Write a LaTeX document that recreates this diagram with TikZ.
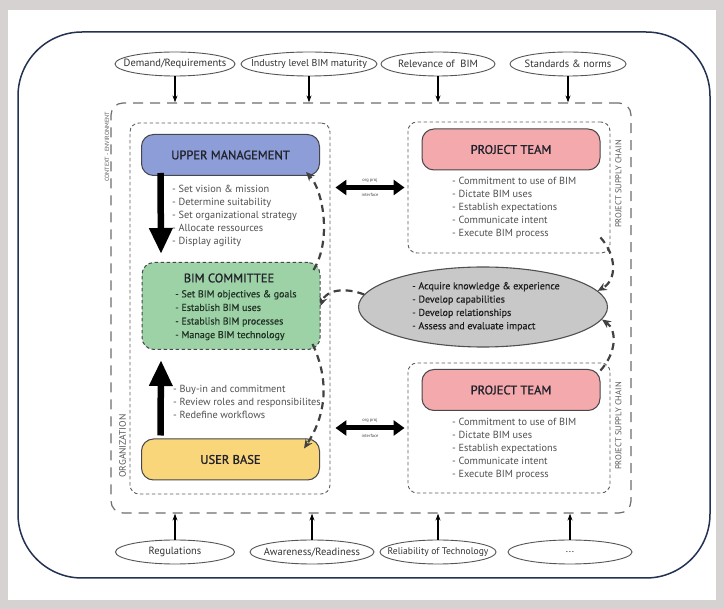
\documentclass[tikz,border=0pt]{standalone}
\usepackage{fontspec}
\setmainfont{PT Sans}
\newfontfamily\titlefont[FakeBold=1.2]{PT Sans}
\newfontfamily\semifont[FakeBold=0.5]{PT Sans}
\usetikzlibrary{arrows.meta,calc,shapes.geometric}

\begin{document}
\begin{tikzpicture}[x=1pt,y=1pt,yscale=-1,
	outerframe/.style={draw={rgb, 255:red, 35; green, 50; blue, 82 },line width=1.5pt,rounded corners=64pt},
	envbox/.style={draw={rgb, 255:red, 110; green, 110; blue, 110 },dash pattern={on 10pt off 7pt},line width=1.2pt,rounded corners=12pt,inner sep=0pt},
	dashbox/.style={draw={rgb, 255:red, 95; green, 95; blue, 95 },dash pattern={on 3.5pt off 2.5pt},line width=0.9pt,rounded corners=9pt,inner sep=0pt},
	ctxell/.style={ellipse,draw={rgb, 255:red, 85; green, 85; blue, 85 },line width=0.9pt,inner sep=0pt,minimum height=24pt},
	ctxtxt/.style={inner sep=0pt,text={rgb, 255:red, 50; green, 50; blue, 50 },font=\fontsize{10.5}{11}\selectfont},
	ctxarr/.style={-{Stealth[length=7pt,width=5pt]},line width=1.2pt},
	titlebox/.style={rectangle,rounded corners=12pt,draw={rgb, 255:red, 70; green, 70; blue, 75 },line width=1pt,minimum width=178pt,minimum height=41pt,inner sep=0pt,font=\titlefont\fontsize{12.5}{13}\selectfont,text={rgb, 255:red, 35; green, 35; blue, 45 }},
	bullets/.style={anchor=north west,inner sep=0pt,align=left,font=\fontsize{10.3}{13}\selectfont,text={rgb, 255:red, 80; green, 80; blue, 80 }},
	sidelbl/.style={rotate=90,inner sep=0.5pt,font=\fontsize{8.5}{9}\selectfont,text={rgb, 255:red, 90; green, 90; blue, 90 }},
	bigarrow/.style={line width=6.5pt,-{Triangle[width=22pt,length=26pt]}},
	dblarrow/.style={line width=5pt,{Triangle[width=15pt,length=11pt]}-{Triangle[width=15pt,length=11pt]}},
	tinylbl/.style={fill=white,inner sep=0.6pt,font=\fontsize{4.5}{5}\selectfont,text={rgb, 255:red, 70; green, 70; blue, 70 }},
	feedback/.style={draw={rgb, 255:red, 65; green, 65; blue, 65 },line width=2.2pt,dash pattern={on 7pt off 5pt},-{Stealth[length=9pt,width=8pt]}}
	]
	%Background
	\fill[fill={rgb, 255:red, 214; green, 210; blue, 210 }] (0,0) rectangle (724,609);
	\fill[white] (8,10) rectangle (716,600);
	\useasboundingbox (0,0) rectangle (724,609);
	
	%Rounded Rect [outer frame]
	\draw[outerframe] (18,32) rectangle (710,578);
	
	%Shape: Rectangle [context - environment]
	\node[envbox,minimum width=520pt,minimum height=410pt] (env) at (371,308) {};
	%Shape: Rectangle [organization]
	\node[dashbox,minimum width=200pt,minimum height=371pt] (org) at (230,308.5) {};
	%Shape: Rectangle [project supply chain]
	\node[dashbox,minimum width=202pt,minimum height=131pt] (ptA) at (509,187.5) {};
	\node[dashbox,minimum width=202pt,minimum height=130pt] (ptB) at (509,428) {};
	
	%Shape: Ellipse [context, top]
	\node[ctxell,minimum width=120pt] (demand) at (175,64) {};
	\node[ctxtxt] at (demand) {Demand/Requirements};
	\node[ctxell,minimum width=136pt] (industry) at (309,64) {};
	\node[ctxtxt,font=\fontsize{10}{11}\selectfont] at (industry) {Industry level BIM maturity};
	\node[ctxell,minimum width=114pt] (relevance) at (438,64) {};
	\node[ctxtxt] at (relevance) {Relevance of \ BIM};
	\node[ctxell,minimum width=116pt] (standards) at (568,64) {};
	\node[ctxtxt] at (standards) {Standards \& norms};
	%Shape: Ellipse [context, bottom]
	\node[ctxell,minimum width=119pt] (regul) at (175,552) {};
	\node[ctxtxt] at (regul) {Regulations};
	\node[ctxell,minimum width=124pt] (aware) at (312,552) {};
	\node[ctxtxt] at (aware) {Awareness/Readiness};
	\node[ctxell,minimum width=116pt] (reliab) at (438,552) {};
	\node[ctxtxt,font=\fontsize{9.6}{10}\selectfont] at (reliab) {Reliability of Technology};
	\node[ctxell,minimum width=124pt] (more) at (570,552) {};
	\node[ctxtxt] at (more) {...};
	
	%Straight Lines [context arrows]
	\draw[ctxarr] (demand.south) -- (demand.south |- env.north);
	\draw[ctxarr] (industry.south) -- (industry.south |- env.north);
	\draw[ctxarr] (relevance.south) -- (relevance.south |- env.north);
	\draw[ctxarr] (standards.south) -- (standards.south |- env.north);
	\draw[ctxarr] (regul.north) -- (regul.north |- env.south);
	\draw[ctxarr] (aware.north) -- (aware.north |- env.south);
	\draw[ctxarr] (reliab.north) -- (reliab.north |- env.south);
	\draw[ctxarr] (more.north) -- (more.north |- env.south);
	
	% Text Node [side labels]
	\node[sidelbl,fill=white,font=\fontsize{6}{6}\selectfont] (ctxlbl) at (107,147) {CONTEXT - ENVIRONMENT};
	\node[sidelbl,font=\fontsize{9.5}{10}\selectfont] (orglbl) at (122.5,446) {ORGANIZATION};
	\node[sidelbl] (psclblA) at (618.5,184) {PROJECT SUPPLY CHAIN};
	\node[sidelbl] (psclblB) at (618.5,426) {PROJECT SUPPLY CHAIN};
	
	%Rounded Rect [upper management]
	\node[titlebox,fill={rgb, 255:red, 140; green, 157; blue, 216 }] (upper) at (230.5,155) {UPPER MANAGEMENT};
	% Text Node
	\node[bullets] (upperlist) at (172,185) {- Set vision \& mission\\- Determine suitability\\- Set organizational strategy\\- Allocate ressources\\- Display agility};
	
	%Rounded Rect [bim committee]
	\node[titlebox,fill={rgb, 255:red, 156; green, 210; blue, 166 },dash pattern={on 3.5pt off 2.5pt},minimum height=87pt] (bim) at (231,306) {};
	% Text Node
	\node[titlebox,draw=none,minimum width=0pt,minimum height=0pt] (bimtitle) at (229,278) {BIM COMMITTEE};
	\node[bullets,font=\semifont\fontsize{10}{13.6}\selectfont,text={rgb, 255:red, 35; green, 50; blue, 38 }] (bimlist) at (175,290) {- Set BIM objectives \& goals\\- Establish BIM uses\\- Establish BIM processes\\- Manage BIM technology};
	
	%Rounded Rect [user base]
	\node[titlebox,fill={rgb, 255:red, 250; green, 214; blue, 122 }] (userbase) at (230.5,459.5) {USER BASE};
	% Text Node
	\node[bullets] (userlist) at (173,385) {- Buy-in and commitment\\- Review roles and responsibilites\\- Redefine workflows};
	
	%Straight Lines [organization arrows]
	\draw[bigarrow] ($(upper.south west)+(19.5,-3)$) -- ($(bim.north west)+(19.5,-8)$);
	\draw[bigarrow] ($(userbase.north west)+(19.5,-3)$) -- ($(bim.south west)+(19.5,10)$);
	
	%Rounded Rect [project teams]
	\node[titlebox,fill={rgb, 255:red, 244; green, 170; blue, 172 }] (teamA) at (511,149.5) {PROJECT TEAM};
	\node[bullets] (teamAlist) at (452,177) {- Commitment to use of BIM\\- Dictate BIM uses\\- Establish expectations\\- Communicate intent\\- Execute BIM process};
	\node[titlebox,fill={rgb, 255:red, 244; green, 170; blue, 172 }] (teamB) at (511,390) {PROJECT TEAM};
	\node[bullets] (teamBlist) at (452,418) {- Commitment to use of BIM\\- Dictate BIM uses\\- Establish expectations\\- Communicate intent\\- Execute BIM process};
	
	%Shape: Ellipse [learning]
	\node[ellipse,draw={rgb, 255:red, 80; green, 80; blue, 80 },line width=1.1pt,fill={rgb, 255:red, 200; green, 200; blue, 200 },minimum width=249pt,minimum height=80pt,inner sep=0pt] (learn) at (483,307) {};
	\node[bullets,text={rgb, 255:red, 30; green, 30; blue, 30 },font=\semifont\fontsize{10}{13.3}\selectfont] (learnlist) at (412,282) {- Acquire knowledge \& experience\\- Develop capabilities\\- Develop relationships\\- Assess and evaluate impact};
	
	%Straight Lines [org proj interface]
	\draw[dblarrow] ($(org.east |- ptA.west)+(5,0)$) -- ($(ptA.west)+(-3,0)$);
	\node[tinylbl] (ifAtop) at (370,180) {org proj};
	\node[tinylbl] (ifAbot) at (370,195) {interface};
	\draw[dblarrow] ($(org.east |- ptB.west)+(5,0)$) -- ($(ptB.west)+(-3,0)$);
	\node[tinylbl] (ifBtop) at (370,420.5) {org proj};
	\node[tinylbl] (ifBbot) at (370,435.5) {interface};
	
	%Curve Lines [feedback]
	\draw[feedback] (learn.174) .. controls (345,287) and (326,290) .. (bim.east);
	\draw[feedback] ($(bim.north east)+(-7,8)$) .. controls (332,240) and (323,190) .. ($(upper.south east)+(-14,-4)$);
	\draw[feedback] ($(bim.south east)+(-8,-6)$) .. controls (332,385) and (323,420) .. ($(userbase.north east)+(-16,10)$);
	\draw[feedback] ($(ptA.south east)+(-10,-16)$) .. controls (617,256) and (617,280) .. (learn.8);
	\draw[feedback] ($(ptB.north east)+(-10,8)$) .. controls (617,352) and (617,330) .. (learn.-6);
\end{tikzpicture}
\end{document}
